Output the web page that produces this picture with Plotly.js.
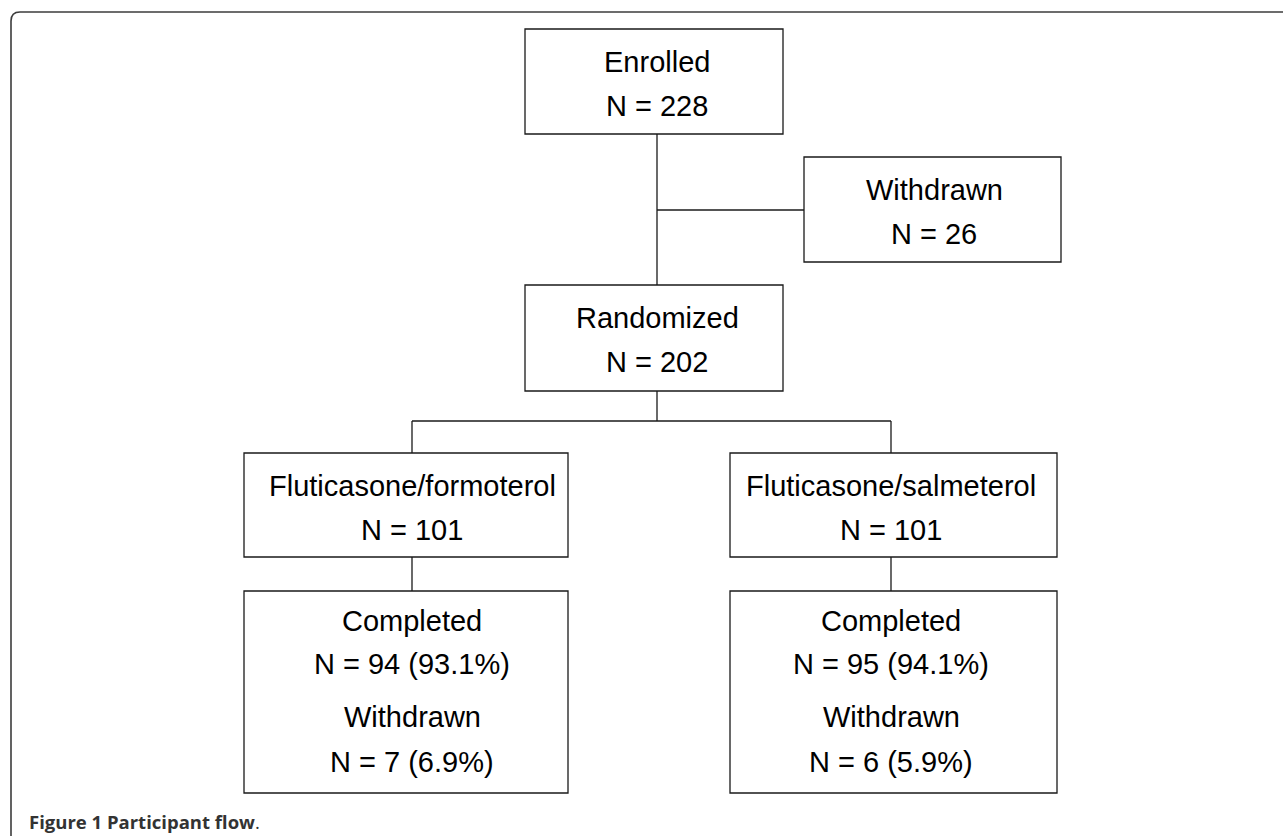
<!DOCTYPE html>
<html>
<head>
<meta charset="utf-8">
<script src="https://cdn.plot.ly/plotly-3.0.1.min.js"></script>
<style>html,body{margin:0;padding:0;background:#fff;}#chart{width:1283px;height:836px;}</style>
</head>
<body>
<div id="chart"></div>
<script>
// ---- data ----
const stageLabels = ['Enrolled', 'Withdrawn', 'Randomized', 'Fluticasone/formoterol', 'Fluticasone/salmeterol'];
const stageCounts = [228, 26, 202, 101, 101];
const armNames = ['Fluticasone/formoterol', 'Fluticasone/salmeterol'];
const completedCounts = [94, 95];
const completedPct = [93.1, 94.1];
const withdrawnCounts = [7, 6];
const withdrawnPct = [6.9, 5.9];
const caption = ['Figure 1 Participant flow', '.'];

// ---- layout geometry (pixels in a 1283x836 coordinate space) ----
const W = 1283, H = 836;
const stageBoxes = [
  {x0: 525, x1: 783, y0: 29, y1: 134, cx: 657},
  {x0: 804, x1: 1061, y0: 157, y1: 262, cx: 934},
  {x0: 525, x1: 783, y0: 285, y1: 391, cx: 657},
  {x0: 244, x1: 568, y0: 453, y1: 557, cx: 412},
  {x0: 730, x1: 1057, y0: 453, y1: 557, cx: 891}
];
const outcomeBoxes = [
  {x0: 244, x1: 568, y0: 591, y1: 793, cx: 412},
  {x0: 730, x1: 1057, y0: 591, y1: 793, cx: 891}
];
const boxLine = {color: '#1a1a1a', width: 1.3};
const textFont = {family: 'Liberation Sans, Arial, sans-serif', size: 29, color: '#000'};

const shapes = [];
const annotations = [];

function rect(b) {
  shapes.push({type: 'rect', xref: 'x', yref: 'y', x0: b.x0, x1: b.x1, y0: b.y0, y1: b.y1,
    line: boxLine, fillcolor: 'rgba(0,0,0,0)'});
}
function seg(x0, y0, x1, y1) {
  shapes.push({type: 'line', xref: 'x', yref: 'y', x0: x0, y0: y0, x1: x1, y1: y1, line: boxLine});
}
function label(text, x, y, font) {
  annotations.push({text: text, x: x, y: y, xref: 'x', yref: 'y', showarrow: false,
    xanchor: 'center', yanchor: 'middle', font: font || textFont});
}

// stage boxes
stageBoxes.forEach((b, i) => {
  rect(b);
  label(stageLabels[i], b.cx, b.y0 + 33);
  label('N = ' + stageCounts[i], b.cx, b.y0 + 77);
});
// outcome boxes
outcomeBoxes.forEach((b, i) => {
  rect(b);
  label('Completed', b.cx, b.y0 + 30);
  label('N = ' + completedCounts[i] + ' (' + completedPct[i].toFixed(1) + '%)', b.cx, b.y0 + 73);
  label('Withdrawn', b.cx, b.y0 + 126);
  label('N = ' + withdrawnCounts[i] + ' (' + withdrawnPct[i].toFixed(1) + '%)', b.cx, b.y0 + 171);
});

// connectors
const enr = stageBoxes[0], wd = stageBoxes[1], rnd = stageBoxes[2], armL = stageBoxes[3], armR = stageBoxes[4];
const branchY1 = (wd.y0 + wd.y1) / 2 + 0.5;
seg(enr.cx, enr.y1, enr.cx, rnd.y0);
seg(enr.cx, branchY1, wd.x0, branchY1);
const branchY2 = 421;
seg(rnd.cx, rnd.y1, rnd.cx, branchY2);
seg(armL.cx, branchY2, armR.cx, branchY2);
seg(armL.cx, branchY2, armL.cx, armL.y0);
seg(armR.cx, branchY2, armR.cx, armR.y0);
seg(armL.cx, armL.y1, outcomeBoxes[0].cx, outcomeBoxes[0].y0);
seg(armR.cx, armR.y1, outcomeBoxes[1].cx, outcomeBoxes[1].y0);

// outer frame with rounded top-left corner
shapes.push({type: 'path', xref: 'x', yref: 'y',
  path: 'M 11,' + (H + 2) + ' L 11,21 Q 11,12 20,12 L ' + (W + 2) + ',12',
  line: {color: '#3c3c3c', width: 1.6}});

// caption
annotations.push({text: '<b>' + caption[0] + '</b>' + caption[1], x: 27, y: 821, xref: 'x', yref: 'y',
  showarrow: false, xanchor: 'left', yanchor: 'middle',
  font: {family: 'Open Sans, Noto Sans, sans-serif', size: 18.5, color: '#333'}});

const layout = {
  width: W, height: H,
  margin: {l: 0, r: 0, t: 0, b: 0, pad: 0},
  paper_bgcolor: '#fff', plot_bgcolor: '#fff',
  showlegend: false,
  xaxis: {range: [0, W], visible: false, fixedrange: true},
  yaxis: {range: [H, 0], visible: false, fixedrange: true},
  shapes: shapes,
  annotations: annotations
};

Plotly.newPlot('chart', [{x: [], y: [], type: 'scatter', mode: 'markers', hoverinfo: 'skip'}], layout,
  {staticPlot: true, displayModeBar: false});
</script>
</body>
</html>
